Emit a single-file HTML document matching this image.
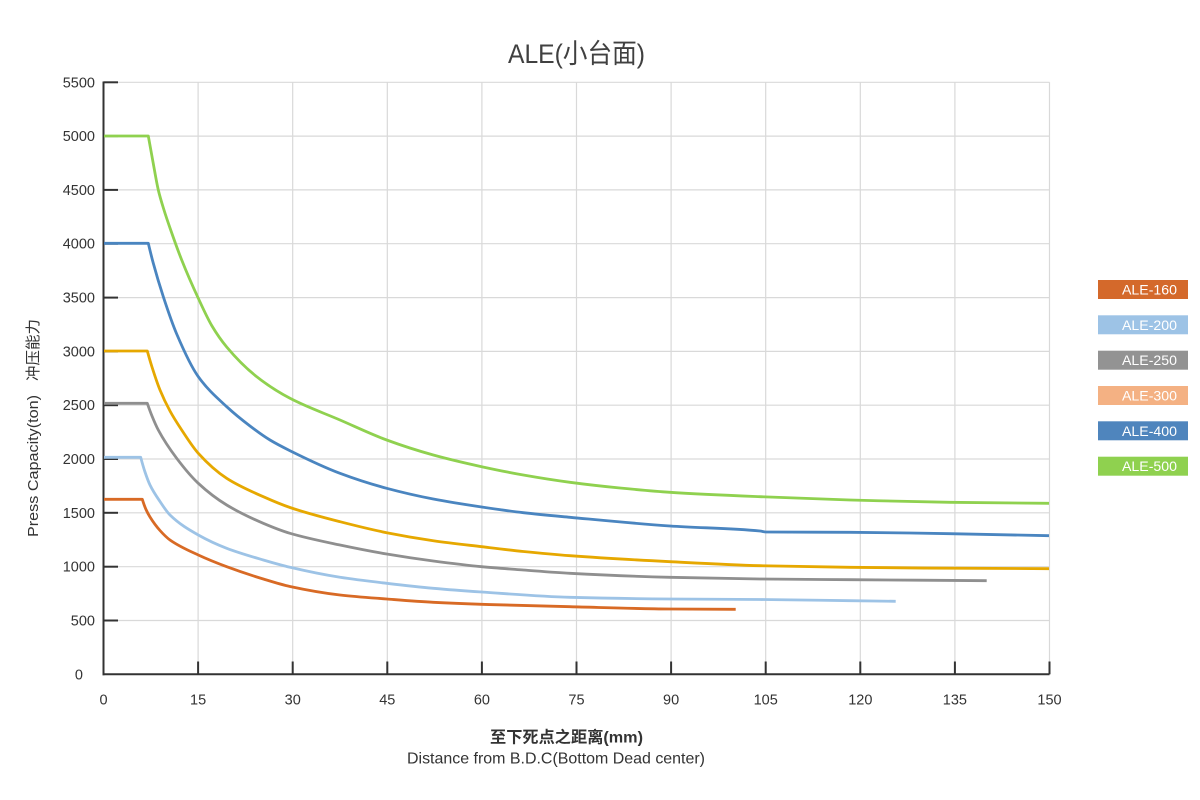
<!DOCTYPE html>
<html>
<head>
<meta charset="utf-8">
<style>
html,body{margin:0;padding:0;background:#fff;}
svg{display:block;}
text{font-family:"Liberation Sans","Noto Sans CJK SC",sans-serif;}
</style>
</head>
<body>
<svg id="chart" width="1200" height="800" viewBox="0 0 1200 800" xmlns="http://www.w3.org/2000/svg">
<rect width="1200" height="800" fill="#fff"/>
<!-- title -->
<text x="576.5" y="63" font-size="27" fill="#404040" text-anchor="middle" textLength="137" lengthAdjust="spacingAndGlyphs">ALE(小台面)</text>

<!-- grid -->
<g stroke="#d9d9d9" stroke-width="1.2" fill="none">
<line x1="103.5" y1="82.3" x2="1049.5" y2="82.3"/>
<line x1="103.5" y1="136.1" x2="1049.5" y2="136.1"/>
<line x1="103.5" y1="189.9" x2="1049.5" y2="189.9"/>
<line x1="103.5" y1="243.7" x2="1049.5" y2="243.7"/>
<line x1="103.5" y1="297.6" x2="1049.5" y2="297.6"/>
<line x1="103.5" y1="351.4" x2="1049.5" y2="351.4"/>
<line x1="103.5" y1="405.2" x2="1049.5" y2="405.2"/>
<line x1="103.5" y1="459.0" x2="1049.5" y2="459.0"/>
<line x1="103.5" y1="512.8" x2="1049.5" y2="512.8"/>
<line x1="103.5" y1="566.7" x2="1049.5" y2="566.7"/>
<line x1="103.5" y1="620.5" x2="1049.5" y2="620.5"/>
<line x1="198.1" y1="82.3" x2="198.1" y2="674.3"/>
<line x1="292.7" y1="82.3" x2="292.7" y2="674.3"/>
<line x1="387.3" y1="82.3" x2="387.3" y2="674.3"/>
<line x1="481.9" y1="82.3" x2="481.9" y2="674.3"/>
<line x1="576.5" y1="82.3" x2="576.5" y2="674.3"/>
<line x1="671.1" y1="82.3" x2="671.1" y2="674.3"/>
<line x1="765.7" y1="82.3" x2="765.7" y2="674.3"/>
<line x1="860.3" y1="82.3" x2="860.3" y2="674.3"/>
<line x1="954.9" y1="82.3" x2="954.9" y2="674.3"/>
<line x1="1049.5" y1="82.3" x2="1049.5" y2="674.3"/>
</g>

<!-- axes -->
<g stroke="#333" stroke-width="2" fill="none">
<line x1="103.5" y1="81.5" x2="103.5" y2="675.3"/>
<line x1="102.5" y1="674.3" x2="1049.5" y2="674.3"/>
<line x1="103.5" y1="82.3" x2="118" y2="82.3"/>
<line x1="103.5" y1="136.1" x2="118" y2="136.1"/>
<line x1="103.5" y1="189.9" x2="118" y2="189.9"/>
<line x1="103.5" y1="243.7" x2="118" y2="243.7"/>
<line x1="103.5" y1="297.6" x2="118" y2="297.6"/>
<line x1="103.5" y1="351.4" x2="118" y2="351.4"/>
<line x1="103.5" y1="405.2" x2="118" y2="405.2"/>
<line x1="103.5" y1="459.0" x2="118" y2="459.0"/>
<line x1="103.5" y1="512.8" x2="118" y2="512.8"/>
<line x1="103.5" y1="566.7" x2="118" y2="566.7"/>
<line x1="103.5" y1="620.5" x2="118" y2="620.5"/>
<line x1="198.1" y1="661.5" x2="198.1" y2="674.3"/>
<line x1="292.7" y1="661.5" x2="292.7" y2="674.3"/>
<line x1="387.3" y1="661.5" x2="387.3" y2="674.3"/>
<line x1="481.9" y1="661.5" x2="481.9" y2="674.3"/>
<line x1="576.5" y1="661.5" x2="576.5" y2="674.3"/>
<line x1="671.1" y1="661.5" x2="671.1" y2="674.3"/>
<line x1="765.7" y1="661.5" x2="765.7" y2="674.3"/>
<line x1="860.3" y1="661.5" x2="860.3" y2="674.3"/>
<line x1="954.9" y1="661.5" x2="954.9" y2="674.3"/>
<line x1="1049.5" y1="661.5" x2="1049.5" y2="674.3"/>
</g>

<!-- y tick labels -->
<g font-size="14.5" fill="#333" text-anchor="end">
<text x="95" y="87.3">5500</text>
<text x="95" y="141.1">5000</text>
<text x="95" y="194.9">4500</text>
<text x="95" y="248.7">4000</text>
<text x="95" y="302.6">3500</text>
<text x="95" y="356.4">3000</text>
<text x="95" y="410.2">2500</text>
<text x="95" y="464.0">2000</text>
<text x="95" y="517.8">1500</text>
<text x="95" y="571.7">1000</text>
<text x="95" y="625.5">500</text>
<text x="83" y="679.3">0</text>
</g>
<!-- x tick labels -->
<g font-size="14.5" fill="#333" text-anchor="middle">
<text x="103.5" y="704.5">0</text>
<text x="198.1" y="704.5">15</text>
<text x="292.7" y="704.5">30</text>
<text x="387.3" y="704.5">45</text>
<text x="481.9" y="704.5">60</text>
<text x="576.5" y="704.5">75</text>
<text x="671.1" y="704.5">90</text>
<text x="765.7" y="704.5">105</text>
<text x="860.3" y="704.5">120</text>
<text x="954.9" y="704.5">135</text>
<text x="1049.5" y="704.5">150</text>
</g>

<!-- axis titles -->
<text x="566.5" y="742.5" font-size="16" font-weight="bold" fill="#333" text-anchor="middle" textLength="153" lengthAdjust="spacingAndGlyphs">至下死点之距离(mm)</text>
<text x="556" y="763.5" font-size="16" fill="#333" text-anchor="middle" textLength="298" lengthAdjust="spacingAndGlyphs">Distance from B.D.C(Bottom Dead center)</text>
<g transform="translate(38,0)">
<text transform="translate(0,466) rotate(-90)" font-size="15" fill="#333" text-anchor="middle" textLength="142" lengthAdjust="spacingAndGlyphs">Press Capacity(ton)</text>
<text transform="translate(0,350) rotate(-90)" font-size="15" fill="#333" text-anchor="middle" textLength="62" lengthAdjust="spacingAndGlyphs">冲压能力</text>
</g>

<!-- series -->
<g id="series" fill="none" stroke-width="2.8" stroke-linejoin="round" stroke-linecap="butt">
<polyline class="s" stroke="#8fd14f" points="104,136 148.3,136 153,162 158.3,190 164,210 170,228 181.7,260 198.3,298.3 212,326 226.7,347 256.7,376.7 290,398.3 340,420 386.7,440 433.3,455 481.7,466.7 523.3,475 570,482.3 620,488 670,492.3 760,496.7 850,500 950,502.3 1049,503.3"/>
<polyline class="s" stroke="#4a85c0" points="104,243.3 148.3,243.3 153.3,263.3 163.3,296.7 176.7,334 198.3,376.7 226.7,406.7 250,426 270,440 290,450.7 340,473.3 386.7,488.3 433.3,499 481.7,507 523.3,512.7 570,517.3 670,526 760,531 766,532 850,532.3 950,533.7 1049,535.7"/>
<polyline class="s" stroke="#e6a800" points="104,351 147.3,351 152,367 160,390 170,411 181.7,430 198.3,453.3 226.7,478.3 263.3,496.7 290,507.5 340,521.7 386.7,532.7 433.3,540.7 481.7,546.7 523.3,551.5 570,555.7 670,561.7 760,565.7 850,567.3 1049,568.7"/>
<polyline class="s" stroke="#8f8f8f" points="104,403.3 147.3,403.3 152,416 158.3,430 176.7,458.3 198.3,483.3 226.7,505 263.3,523.3 290,533.3 340,545 386.7,554 433.3,561 481.7,566.7 523.3,570 570,573.3 670,577.3 760,579 850,579.7 986.7,580.7"/>
<polyline class="s" stroke="#9dc3e6" points="104,457.3 140.7,457.3 145,472 150,485 160,501.5 170,515 198.3,535 226.7,548.3 263.3,560 290,567.3 340,577.3 386.7,583.3 433.3,588.3 481.7,592 570,597.3 670,599 760,599.5 850,600.7 895.7,601.3"/>
<polyline class="s" stroke="#d86a25" points="104,499.3 142.3,499.3 146,509.5 150,517 160,530.5 170,540 198.3,555 226.7,566.7 263.3,579 290,586.5 340,595 386.7,599 433.3,602.3 481.7,604.3 570,606.7 670,609 735.7,609.3"/>
</g>

<!-- legend -->
<g>
<rect x="1098" y="280" width="90" height="19" fill="#d4692b"/>
<rect x="1098" y="315.3" width="90" height="19" fill="#9dc3e6"/>
<rect x="1098" y="350.7" width="90" height="19" fill="#939393"/>
<rect x="1098" y="386" width="90" height="19" fill="#f4b183"/>
<rect x="1098" y="421.3" width="90" height="19" fill="#4f85bd"/>
<rect x="1098" y="456.7" width="90" height="19" fill="#8fd14f"/>
</g>
<g font-size="14" fill="#fff" text-anchor="middle">
<text x="1149.5" y="294.5" textLength="55" lengthAdjust="spacingAndGlyphs">ALE-160</text>
<text x="1149.5" y="329.8" textLength="55" lengthAdjust="spacingAndGlyphs">ALE-200</text>
<text x="1149.5" y="365.2" textLength="55" lengthAdjust="spacingAndGlyphs">ALE-250</text>
<text x="1149.5" y="400.5" textLength="55" lengthAdjust="spacingAndGlyphs">ALE-300</text>
<text x="1149.5" y="435.8" textLength="55" lengthAdjust="spacingAndGlyphs">ALE-400</text>
<text x="1149.5" y="471.2" textLength="55" lengthAdjust="spacingAndGlyphs">ALE-500</text>
</g>
</svg>
<script>
(function(){
  try{
    var NS="http://www.w3.org/2000/svg";
    var pls=document.querySelectorAll("polyline.s");
    function f(x,y){return x.toFixed(2)+","+y.toFixed(2);}
    for(var k=0;k<pls.length;k++){
      var pl=pls[k];
      var nums=pl.getAttribute("points").trim().split(/[\s,]+/).map(Number);
      var X=[],Y=[];
      for(var i=0;i<nums.length;i+=2){X.push(nums[i]);Y.push(nums[i+1]);}
      /* flat part: first two points, curve from index 1 */
      var xs=X.slice(1),ys=Y.slice(1),n=xs.length;
      var h=[],d=[];
      for(var i=0;i<n-1;i++){h.push(xs[i+1]-xs[i]);d.push((ys[i+1]-ys[i])/h[i]);}
      var m=new Array(n);
      for(var i=1;i<n-1;i++){
        if(d[i-1]*d[i]<=0){m[i]=0;}
        else{
          var w1=2*h[i]+h[i-1],w2=h[i]+2*h[i-1];
          m[i]=(w1+w2)/(w1/d[i-1]+w2/d[i]);
        }
      }
      function endSlope(h0,h1,d0,d1){
        var s=((2*h0+h1)*d0-h0*d1)/(h0+h1);
        if(s*d0<=0)s=0;
        else if(d0*d1<=0&&Math.abs(s)>3*Math.abs(d0))s=3*d0;
        return s;
      }
      if(n>2){
        m[0]=endSlope(h[0],h[1],d[0],d[1]);
        m[n-1]=endSlope(h[n-2],h[n-3],d[n-2],d[n-3]);
      }else{m[0]=d[0];m[n-1]=d[0];}
      var dd="M"+f(X[0],Y[0])+" L"+f(xs[0],ys[0]);
      for(var i=0;i<n-1;i++){
        var t=h[i]/3;
        dd+=" C"+f(xs[i]+t,ys[i]+m[i]*t)+" "+f(xs[i+1]-t,ys[i+1]-m[i+1]*t)+" "+f(xs[i+1],ys[i+1]);
      }
      var path=document.createElementNS(NS,"path");
      path.setAttribute("d",dd);
      path.setAttribute("stroke",pl.getAttribute("stroke"));
      path.setAttribute("fill","none");
      pl.parentNode.replaceChild(path,pl);
    }
  }catch(e){}
})();
</script>
</body>
</html>
